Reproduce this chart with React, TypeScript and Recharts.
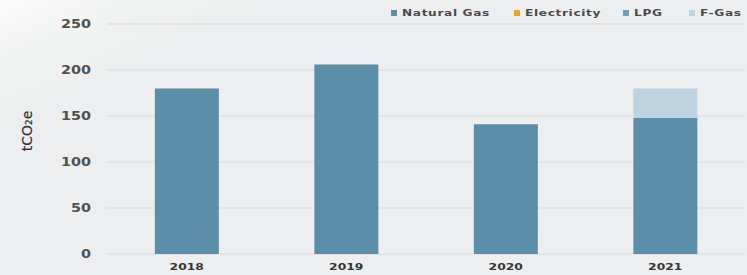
import React from 'react';
import {
  BarChart,
  Bar,
  XAxis,
  YAxis,
  CartesianGrid,
  Label
} from 'recharts';

const years = ['2018', '2019', '2020', '2021'];
const naturalGas = [180, 206, 141, 148];
const electricity = [0, 0, 0, 0];
const lpg = [0, 0, 0, 0];
const fGas = [0, 0, 0, 32];
const yTicks = [0, 50, 100, 150, 200, 250];

const series = [
  { key: 'naturalGas', name: 'Natural Gas', color: '#5b8fa9' },
  { key: 'electricity', name: 'Electricity', color: '#f2a31c' },
  { key: 'lpg', name: 'LPG', color: '#6f9db6' },
  { key: 'fGas', name: 'F-Gas', color: '#bdd3df' }
];

const data = years.map((year, i) => ({
  year,
  naturalGas: naturalGas[i],
  electricity: electricity[i],
  lpg: lpg[i],
  fGas: fGas[i]
}));

const FONT = '"DejaVu Sans", sans-serif';
// the source font is a wide geometric sans, so texts get stretched a bit
const legendLeft = [391, 514, 623, 689];

const ChartLegend = () => (
  <div style={{ position: 'absolute', top: 0, left: 0, fontFamily: FONT }}>
    {series.map((s, i) => (
      <div
        key={s.key}
        style={{
          position: 'absolute',
          left: legendLeft[i],
          top: 7,
          display: 'flex',
          alignItems: 'center',
          whiteSpace: 'nowrap',
          fontSize: 9.5,
          fontWeight: 700,
          color: '#4a4a4a',
          letterSpacing: 0.5,
          lineHeight: '12px'
        }}
      >
        <span style={{ display: 'inline-block', width: 6, height: 6, background: s.color, marginRight: 5 }} />
        <span style={{ display: 'inline-block', transform: 'scaleX(1.28)', transformOrigin: 'left center' }}>{s.name}</span>
      </div>
    ))}
  </div>
);

const YTick = (props: any) => {
  const { x, y, payload } = props;
  return (
    <text
      transform={`translate(${x}, ${y}) scale(1.2, 1)`}
      textAnchor="end"
      dominantBaseline="central"
      fontSize={12}
      fontWeight={700}
      fill="#505050"
      fontFamily={FONT}
    >
      {payload.value}
    </text>
  );
};

const XTick = (props: any) => {
  const { x, y, payload } = props;
  return (
    <text
      transform={`translate(${x}, ${y + 10}) scale(1.45, 1)`}
      textAnchor="middle"
      fontSize={8.5}
      fontWeight={700}
      fill="#363636"
      fontFamily={FONT}
    >
      {payload.value}
    </text>
  );
};

const YLabel = () => (
  <text
    x={27}
    y={131}
    transform="rotate(-90, 27, 131)"
    textAnchor="middle"
    dominantBaseline="central"
    fontSize={14}
    fill="#333"
    stroke="#333"
    strokeWidth={0.2}
    fontFamily={FONT}
  >
    tCO₂e
  </text>
);

export default function App() {
  return (
    <div
      style={{
        position: 'relative',
        width: 747,
        height: 275,
        background: 'linear-gradient(155deg, #fbfbfb 0%, #f3f4f4 8%, #eceeef 20%, #eceeef 100%)'
      }}
    >
      <style>{'body{margin:0}'}</style>
      <BarChart
        width={747}
        height={275}
        data={data}
        margin={{ top: 24, right: 2, bottom: 0, left: 0 }}
        barCategoryGap="30%"
      >
        <CartesianGrid vertical={false} stroke="#d9dadb" />
        <XAxis
          dataKey="year"
          height={21}
          axisLine={false}
          tickLine={false}
          tickMargin={0}
          tick={<XTick />}
        />
        <YAxis
          width={107}
          domain={[0, 250]}
          ticks={yTicks}
          axisLine={false}
          tickLine={false}
          tickMargin={10}
          tick={<YTick />}
        >
          <Label content={<YLabel />} />
        </YAxis>
        {series.map((s) => (
          <Bar key={s.key} dataKey={s.key} name={s.name} stackId="a" fill={s.color} isAnimationActive={false} />
        ))}
      </BarChart>
      <ChartLegend />
    </div>
  );
}
